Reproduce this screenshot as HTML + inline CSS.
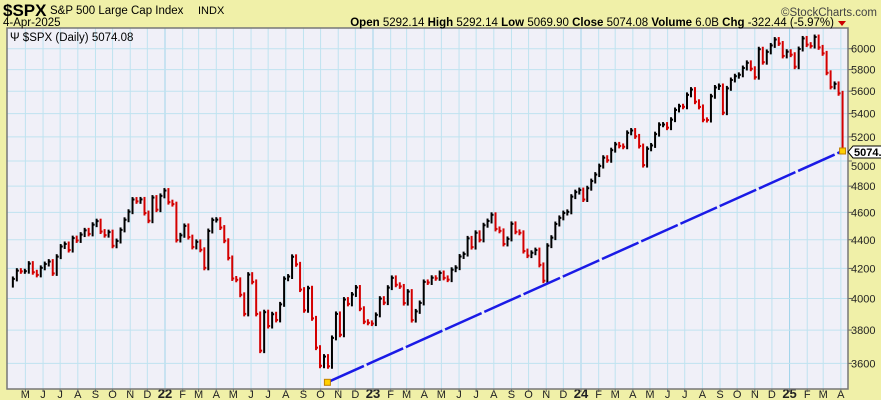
<!DOCTYPE html>
<html><head><meta charset="utf-8">
<style>
body{margin:0;background:#f0f0a8;}
#wrap{position:relative;width:881px;height:400px;background:#f0f0a8;font-family:"Liberation Sans",sans-serif;overflow:hidden}
svg{position:absolute;left:0;top:0}
</style></head>
<body>
<div id="wrap">
<svg id="chart" width="881" height="400"></svg>
</div>
<script>
const startDate = "2021-04-09";
const closes2021 = [4129,4185,4180,4181,4233,4174,4156,4204,4230,4247,4166,4281,4352,4370,4327,4412,4395,4437,4468,4442,4509,4535,4459,4433,4455,4357,4391,4471,4545,4605,4697,4683,4698,4595,4538,4712,4620,4725,4766];
const closes2022 = [4677,4662,4398,4432,4500,4419,4349,4385,4329,4204,4463,4543,4546,4488,4393,4272,4132,4123,4024,3901,4158,4109,3901,3675,3912,3825,3899,3863,3962,4130,4145,4280,4228,4058,3924,4067,3873,3693,3586,3640,3583,3752,3901,3771,3993,3965,4026,4072,3934,3852,3845,3840];
const closes2023 = [3895,3999,3973,4071,4136,4090,4079,3970,4045,3862,3917,3971,4109,4105,4137,4133,4169,4136,4124,4191,4205,4282,4299,4410,4348,4450,4399,4505,4536,4582,4478,4464,4370,4406,4515,4457,4450,4320,4288,4308,4327,4224,4117,4358,4415,4514,4559,4595,4604,4719,4754,4770];
const closes2024 = [4697,4784,4840,4891,4959,5027,5006,5089,5137,5124,5117,5234,5254,5204,5123,4967,5100,5128,5223,5303,5305,5278,5347,5432,5465,5460,5567,5615,5505,5459,5346,5344,5554,5634,5648,5408,5626,5703,5738,5751,5815,5864,5808,5729,5995,5870,5969,6032,6090,6051,5930,5971];
const closes2025 = [5942,5827,5997,6101,6040,6026,6115,6013,5955,5770,5639,5667,5581,5074];
const yTicks = [3600,3800,4000,4200,4400,4600,4800,5000,5200,5400,5600,5800,6000];
const monthLabels = ["M","J","J","A","S","O","N","D","22","F","M","A","M","J","J","A","S","O","N","D","23","F","M","A","M","J","J","A","S","O","N","D","24","F","M","A","M","J","J","A","S","O","N","D","25","F","M","A"];
const trendDates = ["2022-10-13","2025-04-04"];
const trendValues = [3491,5082];
const lastValue = 5074.08;

const closes = [].concat(closes2021,closes2022,closes2023,closes2024,closes2025);
const L=7,R=848,T=28,B=389;
const DAY=86400000, ref=Date.UTC(2022,0,1);
function xDate(d){return 165+((d-ref)/DAY)*(208/365);}
function yVal(v){return 48.7+616*Math.log(6000/v);}
const svg=document.getElementById('chart');
const NS="http://www.w3.org/2000/svg";
function mk(tag,attrs,parent){const e=document.createElementNS(NS,tag);for(const k in attrs)e.setAttribute(k,attrs[k]);(parent||svg).appendChild(e);return e;}

const bg=mk('rect',{x:L,y:T,width:R-L,height:B-T,fill:'#f0f0f8'});



const grid=mk('g',{});


for(let i=0;i<monthLabels.length;i++){
  const m=4+i; const d=Date.UTC(2021+Math.floor(m/12),m%12,1);
  const x=xDate(d);
  const isYear=(m%12===0);
  mk('line',{x1:x,x2:x,y1:T,y2:B,stroke:isYear?'#9fd3ea':'#bfe3f0','stroke-width':1},grid);
  const t=mk('text',{x:x,y:398,'text-anchor':'middle','font-size':isYear?13:11,'font-weight':isYear?'bold':'normal',fill:'#222'});
  t.textContent=monthLabels[i];
  
  
  mk('line',{x1:x,x2:x,y1:B,y2:B+3,stroke:'#666'});
}
yTicks.forEach(v=>{
  const y=yVal(v);
  mk('line',{x1:L,x2:R,y1:y,y2:y,stroke:'#bfe3f0','stroke-width':1},grid);
  mk('line',{x1:R,x2:R+4,y1:y,y2:y,stroke:'#666'});
  if(v!==5000){
  const t=mk('text',{x:R+3,y:y+4,'font-size':11,fill:'#222'});
  t.textContent=v;
  
  }
});
const t5=mk('text',{x:R+3,y:yVal(5000)+9,'font-size':11,fill:'#222'});t5.textContent="5000";



const bars=mk('g',{});


const s0=Date.parse(startDate+"T00:00:00Z");
for(let i=0;i<closes.length;i++){
  const d=s0+i*7*DAY; const x=xDate(d);
  const prev=i>0?closes[i-1]:closes[0]*0.99;
  const c=closes[i]; const up=c>=prev;
  const hi=Math.max(prev,c)*1.004, lo=Math.min(prev,c)*0.996;
  const b=mk('line',{x1:x,x2:x,y1:yVal(hi),y2:yVal(lo),stroke:up?'#000':'#d40000','stroke-width':2},bars);
  
  
  const tk=mk('line',{x1:x,x2:x+2,y1:yVal(c),y2:yVal(c),stroke:up?'#000':'#d40000','stroke-width':2},bars);
  
  
}
const tx=trendDates.map(s=>xDate(Date.parse(s+"T00:00:00Z"))), ty=trendValues.map(yVal);
const tl=mk('line',{x1:tx[0],y1:ty[0],x2:tx[1],y2:ty[1],stroke:'#1a1ae6','stroke-width':2.5,'stroke-dasharray':'40 3'});


for(let k=0;k<2;k++){
  const sq=mk('rect',{x:tx[k]-3,y:ty[k]-3,width:6,height:6,fill:'#ffd000',stroke:'#c08000','stroke-width':1});
  
  
}
mk('rect',{x:L,y:T,width:R-L,height:B-T,fill:'none',stroke:'#777','stroke-width':1.5});
const ly=yVal(lastValue);
const lb=mk('g',{});


mk('path',{d:`M${R} ${ly} L${R+5} ${ly-6} L${R+40} ${ly-6} L${R+40} ${ly+6} L${R+5} ${ly+6} Z`,fill:'#fff',stroke:'#000'},lb);
const lt=mk('text',{x:R+6,y:ly+4,'font-size':11,'font-weight':'bold',fill:'#000'},lb);lt.textContent="5074.08";

function txt(x,y,s,size,w,fill,name,anchor){const t=mk('text',{x:x,y:y,'font-size':size,'font-weight':w||'normal',fill:fill||'#000','text-anchor':anchor||'start'});t.textContent=s;return t;}
txt(3,16,"$SPX",17,"bold","#000","ticker-symbol");
txt(50,14,"S&P 500 Large Cap Index",11.5,"normal","#000","index-name");
txt(198,14,"INDX",11,"normal","#000","exchange");
txt(877,16,"©StockCharts.com",11.5,"normal","#444","copyright","end");
txt(3,26,"4-Apr-2025",11.5,"normal","#000","date-label");
const st=mk('text',{x:834,y:26,'font-size':11.5,'text-anchor':'end'});


st.innerHTML='<tspan font-weight="bold">Open</tspan> 5292.14 <tspan font-weight="bold">High</tspan> 5292.14 <tspan font-weight="bold">Low</tspan> 5069.90 <tspan font-weight="bold">Close</tspan> 5074.08 <tspan font-weight="bold">Volume</tspan> 6.0B <tspan font-weight="bold">Chg</tspan> -322.44 (-5.97%)';
mk('path',{d:'M838 21 L846 21 L842 26 Z',fill:'#c00'});
txt(10,41,"\u03A8 $SPX (Daily) 5074.08",11.5,"normal","#000","series-legend");
</script>
</body></html>
